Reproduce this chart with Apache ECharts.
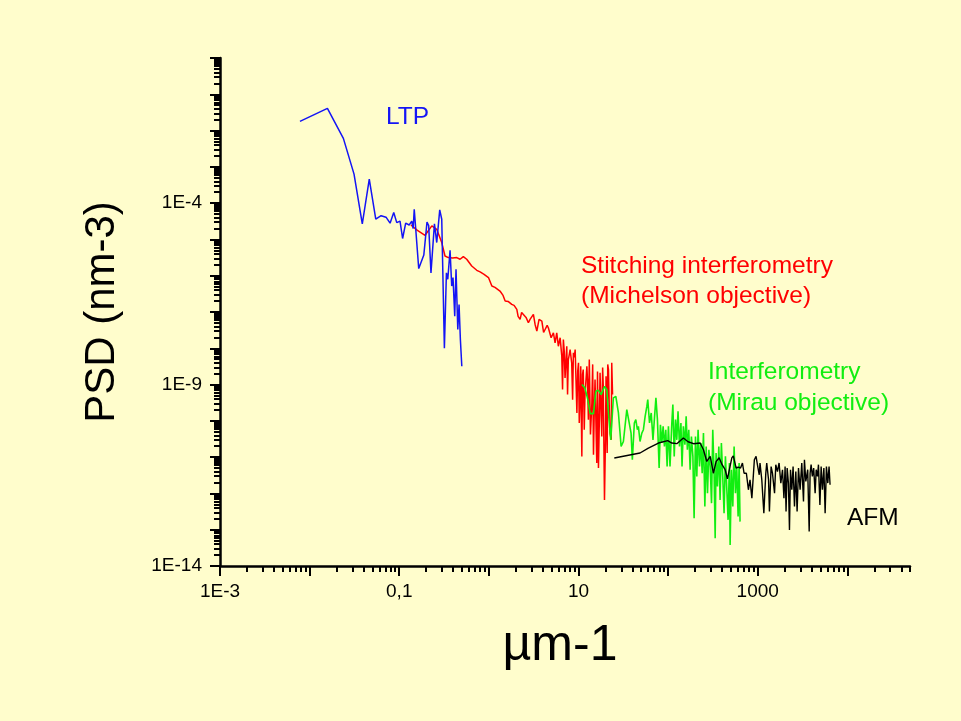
<!DOCTYPE html>
<html>
<head>
<meta charset="utf-8">
<script src="https://cdn.jsdelivr.net/npm/echarts@6.0.0/dist/echarts.min.js"></script>
<style>
html,body{margin:0;padding:0;background:#FFFDCC;}
#chart{width:961px;height:721px;}
</style>
</head>
<body>
<div id="chart"></div>
<script>
// ---- data (x in µm-1, y in nm-3) ----
const ltpX = [0.0078,0.0158,0.0238,0.0313,0.0387,0.0463,0.0547,0.0627,0.0712,0.079,0.0868,0.0938,0.102,0.109,0.118,0.129,0.138,0.143,0.147,0.165,0.188,0.204,0.213,0.226,0.247,0.262,0.283,0.298,0.319,0.336,0.348,0.369,0.385,0.398,0.416,0.43,0.45,0.465,0.481,0.499];
const ltpY = [1.8e-2,4.1e-2,6.1e-3,6.3e-4,2.7e-5,4.6e-4,3.6e-5,4.5e-5,4.1e-5,2.8e-5,5.5e-5,2.9e-5,3.2e-5,1.06e-5,2.8e-5,2.5e-5,3.2e-5,2.0e-5,6.8e-5,1.57e-6,3.7e-6,3.0e-5,2.4e-5,1.2e-6,2.7e-5,8.2e-6,6.5e-5,3.6e-5,1.0e-8,1.2e-6,8.0e-7,5.0e-6,5.2e-7,8.9e-7,7.7e-8,1.5e-6,3.3e-8,1.6e-7,1.75e-8,3.2e-9];

const stitchX = [0.135,0.158,0.194,0.231,0.262,0.298,0.324,0.353,0.394,0.438,0.477,0.519,0.566,0.644,0.733,0.798,0.884,0.99,1.08,1.17,1.33,1.44,1.52,1.64,1.80,1.91,2.05,2.12,2.23,2.32,2.43,2.60,2.76,2.88,3.14,3.28,3.43,3.63,3.90,4.08,4.24,4.47,4.61,4.95,5.25,5.48,5.72,5.96,6.24,6.51,6.64,6.78,6.94,7.08,7.4,7.55,7.7,7.9,8.06,8.4,8.6,8.77,8.98,9.18,9.6,9.8,10.0,10.2,10.4,10.6,10.9,11.1,11.3,11.6,11.8,12.4,12.6,12.9,13.2,13.6,14.1,14.4,14.7,15.0,15.3,16.0,16.3,16.7,17.1,17.4,18.2,18.6,18.9,19.5,20.0,20.3,20.9,21.2,21.6,22.1,22.5,23.2,23.5,24.0];
const stitchY = [2.5e-5,1.8e-5,1.3e-5,2.36e-5,1.9e-5,8.2e-6,3.5e-6,3.16e-6,3.1e-6,3.16e-6,2.84e-6,3.37e-6,2.84e-6,1.85e-6,1.41e-6,1.27e-6,1.09e-6,8.9e-7,5.2e-7,4.78e-7,3.78e-7,2.87e-7,2.0e-7,1.96e-7,1.62e-7,1.52e-7,1.18e-7,7.57e-8,6.25e-8,9.7e-8,1.06e-7,7.1e-8,5.06e-8,6.25e-8,8.6e-8,4.54e-8,2.97e-8,6.25e-8,5.6e-8,2.73e-8,3.3e-8,4.27e-8,3.68e-8,1.95e-8,2.68e-8,1.42e-8,2.68e-8,1.14e-8,1.95e-8,6.06e-9,7.3e-10,1.75e-8,8.1e-9,1.53e-9,1.14e-8,5.3e-10,4.9e-9,6.8e-9,9.2e-9,3.98e-9,3.85e-10,7.5e-9,5.6e-9,9.2e-9,1.65e-10,2.3e-9,3.98e-9,8.75e-11,3.85e-10,3.2e-9,1.05e-11,1.9e-9,2.6e-9,5.7e-11,4.75e-10,3.2e-9,1.37e-9,1.08e-10,4.9e-9,4.2e-11,3.1e-10,3.6e-9,1.16e-11,2.04e-10,1.37e-9,6.9e-12,2.3e-9,5.0e-12,1.08e-10,2.1e-9,3.7e-11,2.95e-9,8.9e-10,6.6e-13,3.0e-11,1.7e-9,1.3e-11,3.6e-9,2.6e-9,1.8e-10,4.6e-11,3.0e-11,3.98e-9,5.3e-10];

const mirauX = [10.9,11.8,12.7,13.5,14.7,15.6,16.7,17.9,19.5,20.7,21.6,22.9,24.5,26.1,27.9,29.9,31.7,34.6,36.0,38.6,39.9,42.0,43.6,45.4,46.6,48.6,50.9,53.0,55.4,57.9,59.3,62.0,64.8,67.8,70.0,73.1,76.0,79.4,82.1,85.1,88.0,91.0,94.2,97.5,100.8,105,110,113,117,121,125,129,134,139,143,148,154,159,164,170,176,182,189,195,202,209,216,224,232,240,248,257,266,275,285,295,305,315,326,335,343,355,368,380,393,407,421,436,452,467,483,492,509,527,545,564,583,604,620,635];
const mirauY = [1.0e-9,8.1e-10,3.85e-10,1.58e-10,1.58e-10,6.5e-10,6.95e-10,5.3e-10,8.9e-10,7.3e-10,1.65e-10,3.0e-11,4.3e-10,4.75e-10,1.65e-10,1.97e-11,2.7e-11,2.04e-10,2.27e-10,4.6e-11,8.5e-12,8.75e-11,1.08e-10,5.7e-11,7.05e-11,2.7e-11,4.6e-11,5.7e-11,1.33e-10,2.5e-10,3.85e-10,8.75e-11,1.65e-10,3.0e-11,9.7e-11,4.3e-10,1.08e-10,5.0e-12,7.8e-11,2.45e-11,7.05e-11,1.97e-11,5.7e-11,5.5e-12,7.05e-11,5.5e-12,8.75e-11,2.8e-10,1.05e-11,1.08e-10,3.0e-11,1.83e-10,1.97e-11,8.75e-11,5.5e-12,7.05e-11,2.2e-11,1.33e-10,1.6e-11,5.7e-11,4.5e-12,3.7e-11,1.05e-11,2.08e-13,3.7e-11,2.93e-12,5.7e-11,5.5e-12,2.45e-11,3.6e-12,4.6e-11,4.35e-13,1.97e-11,1.02e-12,1.6e-11,5.5e-12,5.4e-13,5.7e-11,3.6e-12,5.8e-14,1.3e-11,1.55e-12,1.97e-11,6.6e-13,2.45e-11,2.93e-12,2.86e-13,1.05e-11,1.26e-12,1.87e-13,6.9e-12,3.8e-14,4.5e-12,4.35e-13,1.97e-11,1.02e-12,5.5e-12,2.3e-13,6.9e-12,1.67e-13];

const afmX = [25.1,48.6,60.2,78,99,110,125,148,167,192,228,248,270,295,320,343,371,400,433,459,483,514,534,574,607,643,675,704,747,787,820,860,917,958,1000,1040,1060,1110,1170,1230,1260,1320,1350,1410,1460,1540,1590,1660,1730,1810,1890,1960,2020,2070,2130,2200,2260,2320,2400,2480,2570,2660,2750,2850,2970,3100,3240,3320,3440,3610,3750,3840,3940,4070,4210,4370,4490,4640,4760,4940,5100,5270,5470,5650,5840,6050,6250,6410];
const afmY = [9.5e-12,1.3e-11,1.78e-11,2.45e-11,2.84e-11,2.45e-11,2.35e-11,3.37e-11,2.66e-11,2.35e-11,2.45e-11,1.6e-11,7.6e-12,1.05e-11,3.6e-12,7.5e-12,9.6e-12,6.2e-12,4.5e-12,2.53e-12,2.53e-12,9.5e-12,1.09e-11,5.0e-12,5.3e-12,5.0e-12,6.9e-12,3.6e-12,3.6e-12,1.26e-12,2.38e-12,7.4e-13,8.5e-12,1.05e-11,5.5e-12,3.26e-12,6.9e-12,2.38e-12,2.86e-13,3.6e-12,6.9e-12,2.38e-12,3.16e-13,5.5e-12,3.6e-12,1.02e-12,6.2e-12,4.0e-12,6.9e-12,1.93e-12,4.5e-12,7.4e-13,5.5e-12,3.16e-13,5.0e-12,1.93e-12,9.9e-14,4.5e-12,1.26e-12,5.5e-12,4.35e-13,4.0e-12,3.16e-13,5.0e-12,1.26e-12,6.9e-12,6.0e-13,8.5e-12,2.13e-12,4.5e-12,8.9e-14,3.6e-12,6.2e-12,2.93e-12,5.0e-12,1.02e-12,4.5e-12,2.93e-12,6.2e-12,4.8e-13,5.5e-12,1.26e-12,5.0e-12,2.86e-13,5.5e-12,1.93e-12,5.5e-12,1.73e-12];

// ---- axes: ticks and labels ----
const xMajorTicks = [1e-3,1e-2,0.1,1,10,100,1000,1e4];
const xLabelValues = [1e-3,0.1,10,1000];
const xLabelTexts = ['1E-3','0,1','10','1000'];
const yMajorTicks = [1e-14,1e-13,1e-12,1e-11,1e-10,1e-9,1e-8,1e-7,1e-6,1e-5,1e-4,1e-3,1e-2,1e-1,1];
const yLabelValues = [1e-14,1e-9,1e-4];
const yLabelTexts = ['1E-14','1E-9','1E-4'];
const X_MIN = 1e-3, X_MAX = 5e4, Y_MIN = 1e-14, Y_MAX = 1;

function minorTicks(lo, hi, maxV) {
  const out = [];
  for (let k = lo; k <= hi; k++) {
    for (let m = 2; m <= 9; m++) {
      const v = m * Math.pow(10, k);
      if (v <= maxV * 1.0001) out.push(v);
    }
  }
  return out;
}
const xMinorTicks = minorTicks(-3, 4, X_MAX);
const yMinorTicks = minorTicks(-14, -1, Y_MAX);

function labelFor(values, texts) {
  return function (v) {
    for (let i = 0; i < values.length; i++) {
      if (Math.abs(Math.log10(v) - Math.log10(values[i])) < 1e-6) return texts[i];
    }
    return '';
  };
}
function zip(a, b) { return a.map((v, i) => [v, b[i]]); }

const FONT = 'Liberation Sans, Arial, sans-serif';
const chart = echarts.init(document.getElementById('chart'), null, {renderer: 'canvas'});

const baseAxis = (min, max) => ({
  type: 'log', logBase: 10, min: min, max: max,
  splitLine: {show: false}, minorTick: {show: false}, minorSplitLine: {show: false}
});

chart.setOption({
  backgroundColor: '#FFFDCC',
  animation: false,
  grid: {left: 220, right: 51, top: 58, bottom: 155, containLabel: false},
  xAxis: [
    Object.assign(baseAxis(X_MIN, X_MAX), {
      position: 'bottom',
      axisLine: {show: true, onZero: false, lineStyle: {color: '#000', width: 2.5}},
      axisTick: {show: true, inside: false, length: 10, customValues: xMajorTicks, lineStyle: {color: '#000', width: 2}},
      axisLabel: {show: true, customValues: xLabelValues, formatter: labelFor(xLabelValues, xLabelTexts),
        fontSize: 19, fontFamily: FONT, color: '#000', margin: 16},
      name: 'µm-1', nameLocation: 'middle', nameGap: 55,
      nameTextStyle: {fontSize: 50, fontFamily: FONT, color: '#000', padding: [0, 10, 0, 0]}
    }),
    Object.assign(baseAxis(X_MIN, X_MAX), {
      position: 'bottom',
      axisLine: {show: false, onZero: false},
      axisTick: {show: true, inside: false, length: 6, customValues: xMinorTicks, lineStyle: {color: '#000', width: 2}},
      axisLabel: {show: false}
    })
  ],
  yAxis: [
    Object.assign(baseAxis(Y_MIN, Y_MAX), {
      position: 'left',
      axisLine: {show: true, onZero: false, lineStyle: {color: '#000', width: 2.5}},
      axisTick: {show: true, inside: false, length: 10, customValues: yMajorTicks, lineStyle: {color: '#000', width: 2}},
      axisLabel: {show: true, customValues: yLabelValues, formatter: labelFor(yLabelValues, yLabelTexts),
        fontSize: 19, fontFamily: FONT, color: '#000', margin: 18},
      name: 'PSD (nm-3)', nameLocation: 'middle', nameGap: 97, nameRotate: 90,
      nameTextStyle: {fontSize: 42, fontFamily: FONT, color: '#000'}
    }),
    Object.assign(baseAxis(Y_MIN, Y_MAX), {
      position: 'left',
      axisLine: {show: false, onZero: false},
      axisTick: {show: true, inside: false, length: 6, customValues: yMinorTicks, lineStyle: {color: '#000', width: 2}},
      axisLabel: {show: false}
    })
  ],
  series: [
    {name: 'Stitching interferometry', type: 'line', data: zip(stitchX, stitchY), showSymbol: false,
      lineStyle: {color: '#ff0000', width: 1.5}, z: 2},
    {name: 'LTP', type: 'line', data: zip(ltpX, ltpY), showSymbol: false,
      lineStyle: {color: '#1414f5', width: 1.5}, z: 3},
    {name: 'Interferometry', type: 'line', data: zip(mirauX, mirauY), showSymbol: false,
      lineStyle: {color: '#11ee11', width: 1.6}, z: 4},
    {name: 'AFM', type: 'line', data: zip(afmX, afmY), showSymbol: false,
      lineStyle: {color: '#000000', width: 1.4}, z: 5}
  ],
  graphic: [
    {type: 'text', x: 386, y: 117, style: {text: 'LTP', fill: '#1414f5', font: '24.5px ' + FONT, verticalAlign: 'middle'}},
    {type: 'text', x: 581, y: 266, style: {text: 'Stitching interferometry', fill: '#ff0000', font: '24.5px ' + FONT, verticalAlign: 'middle'}},
    {type: 'text', x: 581, y: 296, style: {text: '(Michelson objective)', fill: '#ff0000', font: '24.5px ' + FONT, verticalAlign: 'middle'}},
    {type: 'text', x: 708, y: 372, style: {text: 'Interferometry', fill: '#11ee11', font: '24.5px ' + FONT, verticalAlign: 'middle'}},
    {type: 'text', x: 708, y: 403, style: {text: '(Mirau objective)', fill: '#11ee11', font: '24.5px ' + FONT, verticalAlign: 'middle'}},
    {type: 'text', x: 847, y: 518, style: {text: 'AFM', fill: '#000', font: '24.5px ' + FONT, verticalAlign: 'middle'}}
  ]
});
</script>
</body>
</html>
